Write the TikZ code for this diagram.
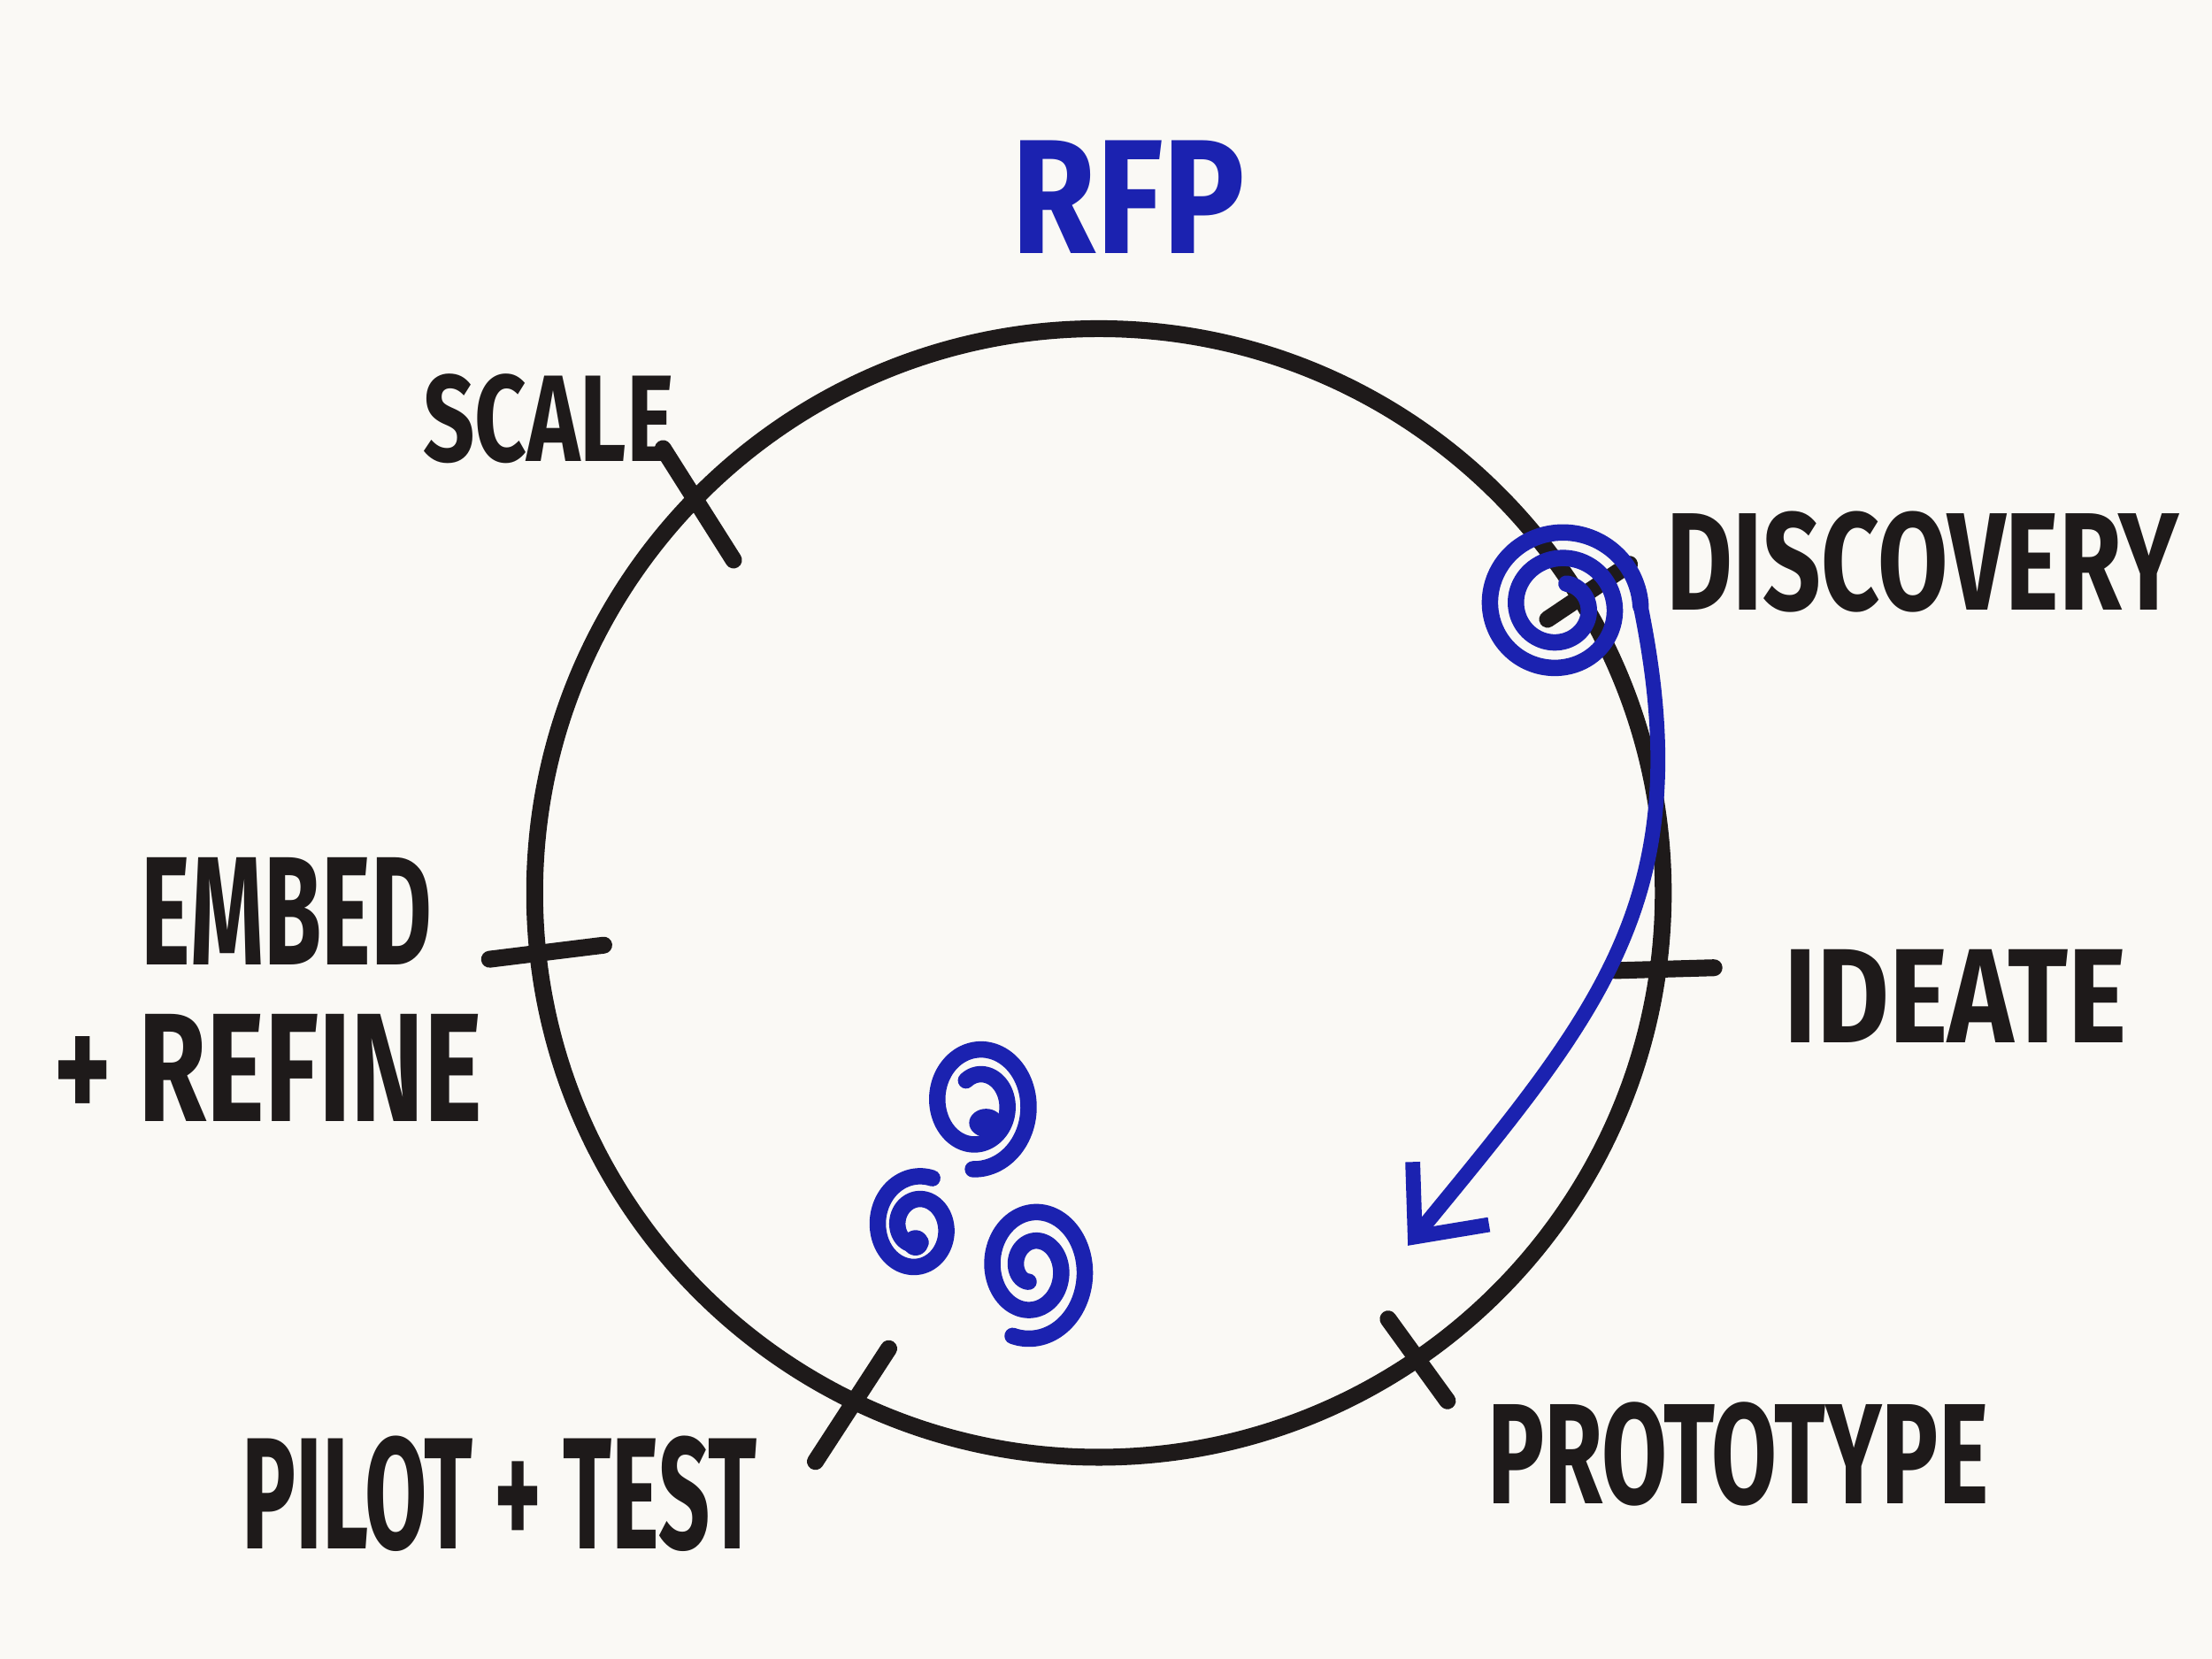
\documentclass[tikz,border=0pt]{standalone}
\usepackage{fontspec}
\usetikzlibrary{arrows.meta,calc}
\newfontfamily\markerfont{Fira Sans}
\definecolor{ink}{HTML}{1E1A1A}
\definecolor{pen}{HTML}{1B22B0}
\definecolor{paper}{HTML}{FAF9F5}
\newcommand{\scrawl}[3]{\resizebox{#1}{#2}{\markerfont\bfseries #3}}

\begin{document}
\begin{tikzpicture}[
 stroke/.style={draw=ink,line width=3.4pt,line cap=round},
 swirl/.style={draw=pen,line width=3.3pt,line cap=round,line join=round},
 word/.style={inner sep=0pt,text=ink},
 arr/.style={-{Straight Barb[length=4mm,width=7mm]},draw=pen,
 line width=3pt,line cap=round}]
\fill[paper] (0,0) rectangle (15.68,11.76);
\useasboundingbox (0,0) rectangle (15.68,11.76);
\coordinate (c) at (7.79,5.43);
\draw[stroke] (c) circle (4);
% ticks on the ring
\foreach \x/\y/\u/\v in {4.70/8.58/5.20/7.79, 3.47/4.96/4.28/5.06,
 5.78/1.40/6.30/2.20, 9.84/2.41/10.26/1.83, 11.45/4.88/12.15/4.90,
 10.97/7.37/11.55/7.76}
 \draw[stroke] (\x,\y) -- (\u,\v);
% labels
\node[word,text=pen] (rfp) at (8.00,10.36) {\scrawl{1.65cm}{0.8cm}{RFP}};
\node[word] (scale) at (3.89,8.79) {\scrawl{1.78cm}{0.62cm}{SCALE}};
\node[word] (discovery) at (13.63,7.78) {\scrawl{3.63cm}{0.7cm}{DISCOVERY}};
\node[word] (ideate) at (13.86,4.70) {\scrawl{2.43cm}{0.66cm}{IDEATE}};
\node[word] (prototype) at (12.32,1.45) {\scrawl{3.55cm}{0.72cm}{PROTOTYPE}};
\node[word] (pilot) at (3.54,1.17) {\scrawl{3.65cm}{0.8cm}{PILOT + TEST}};
\node[word] (embed) at (2.03,5.30) {\scrawl{2.06cm}{0.76cm}{EMBED}};
\node[word] (refine) at (1.90,4.19) {\scrawl{3.04cm}{0.76cm}{+ REFINE}};
% spirals
\foreach \cx/\cy/\rx/\ry/\turns/\last/\start in {11.05/7.46/0.58/0.57/2.2/0/0.3,
 6.93/3.94/0.40/0.47/1.6/265/0.4, 6.50/3.06/0.32/0.37/1.6/70/0.3,
 7.32/2.77/0.42/0.51/2.0/250/0.2}
 \draw[swirl] plot[domain=0:1,samples=180,smooth,variable=\t]
 ({\cx+\rx*(\start+(1-\start)*\t)*cos(\last+\turns*360*(1-\t))},
 {\cy+\ry*(\start+(1-\start)*\t)*sin(\last+\turns*360*(1-\t))});
\fill[pen] (6.99,3.80) ellipse (0.12 and 0.1);
\fill[pen] (6.49,2.95) circle (0.09);
\coordinate (dend) at (11.63,7.46);
\coordinate (dtip) at (9.98,2.93);
\draw[arr] (dend) .. controls (12.05,5.4) and (11.35,4.6) .. (dtip);
\end{tikzpicture}
\end{document}
